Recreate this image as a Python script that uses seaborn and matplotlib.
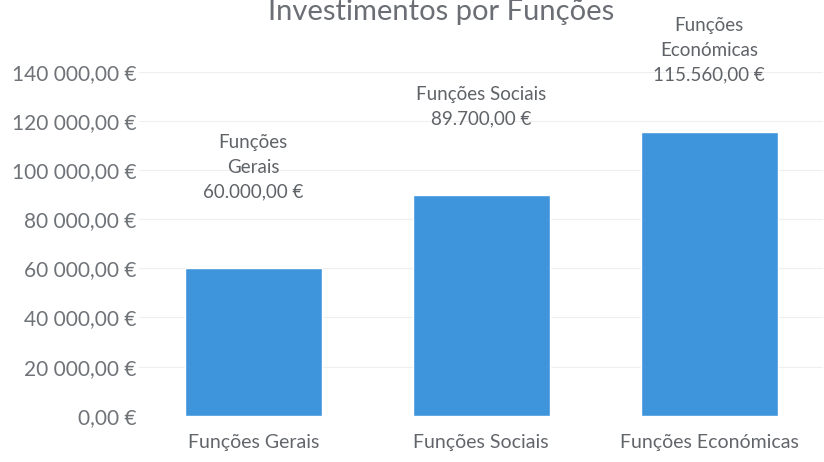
import pandas as pd
import matplotlib.pyplot as plt
import seaborn as sns
from matplotlib.ticker import FuncFormatter

# dados
categorias = ["Funções Gerais", "Funções Sociais", "Funções Económicas"]
valores = [60000, 89700, 115560]
rotulos = ["Funções\nGerais", "Funções Sociais", "Funções\nEconómicas"]

df = pd.DataFrame({"categoria": categorias, "valor": valores})

sns.set_theme(style="white")
plt.rcParams["font.family"] = ["Lato", "DejaVu Sans"]

fig = plt.figure(figsize=(8.24, 4.62), dpi=100)
ax = fig.add_axes([0.169, 0.10, 0.83, 0.745])

sns.barplot(data=df, x="categoria", y="valor", color="#3f95dc", width=0.6,
            saturation=1, ax=ax)

ax.set_ylim(0, 140000)
ax.set_yticks(range(0, 140001, 20000))


def euro_espaco(v, pos=None):
    s = f"{v:,.2f}".replace(",", " ").replace(".", ",")
    return s + " €"


def euro_ponto(v):
    s = f"{v:,.2f}".replace(",", "#").replace(".", ",").replace("#", ".")
    return s + " €"


ax.yaxis.set_major_formatter(FuncFormatter(euro_espaco))
ax.grid(axis="y", color="#efefef", linewidth=0.8)
ax.set_axisbelow(True)
for s in ax.spines.values():
    s.set_visible(False)
ax.set_xlabel("")
ax.set_ylabel("")
ax.tick_params(axis="y", colors="#6f7378", labelsize=15, length=0, pad=2)
ax.tick_params(axis="x", colors="#62666b", labelsize=14, length=0, pad=13)

# rótulos de dados acima das barras
desloc = [68, 68, 48]
for i, (v, r) in enumerate(zip(valores, rotulos)):
    ax.annotate(f"{r}\n{euro_ponto(v)}", xy=(i, v), xytext=(0, desloc[i]),
                textcoords="offset pixels", ha="center", va="bottom",
                fontsize=13.5, color="#5f6368", linespacing=1.55,
                annotation_clip=False)

fig.text(0.535, 0.975, "Investimentos por Funções", ha="center", va="center",
         fontsize=21, color="#6b6f75")

fig.savefig("out.png", dpi=100, facecolor="white")
